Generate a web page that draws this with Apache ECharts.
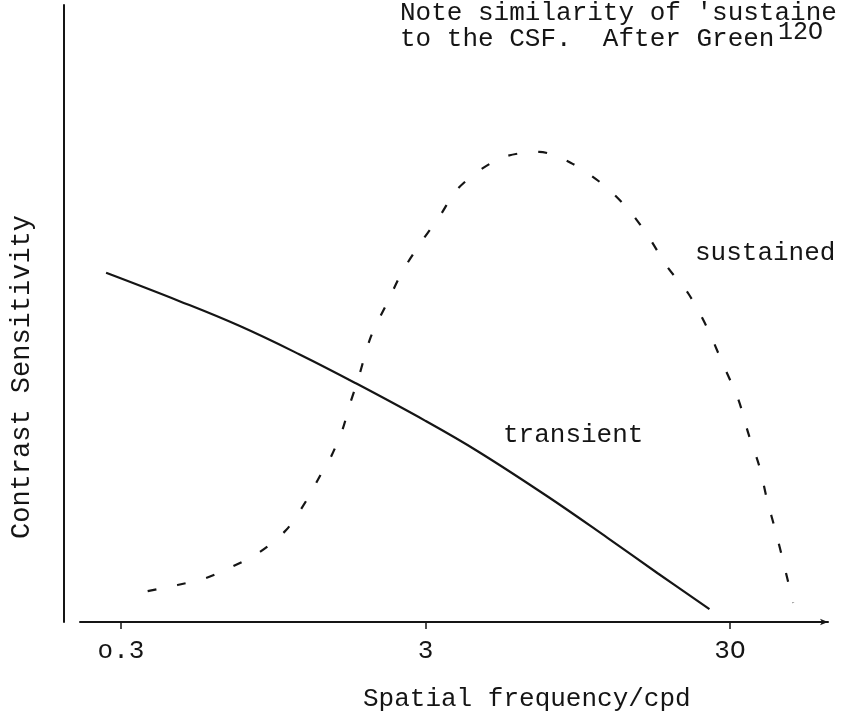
<!DOCTYPE html>
<html>
<head>
<meta charset="utf-8">
<script src="https://cdn.jsdelivr.net/npm/echarts@6/dist/echarts.min.js"></script>
<style>
  html, body { margin: 0; padding: 0; background: #fff; }
  #chart { width: 842px; height: 719px; }
</style>
</head>
<body>
<div id="chart"></div>
<script>
// Spatial frequency (cpd) and relative contrast sensitivity for the two channels
const transientFreq = [0.268, 0.467, 0.734, 1.154, 1.77, 3.00, 4.48, 7.58, 11.92, 17.37, 25.7];
const transientSens = [56.6, 52.0, 48.0, 43.4, 38.7, 32.6, 27.6, 20.3, 13.6, 7.9, 2.1];

const sustainedFreq = [0.367, 0.460, 0.569, 0.691, 0.854, 1.046, 1.216, 1.362, 1.479, 1.607, 1.694, 1.799,
  1.984, 2.255, 2.525, 2.937, 3.364, 3.793, 4.580, 5.529, 7.087, 9.020, 11.56, 13.96, 16.23, 18.72,
  21.93, 25.31, 28.34, 31.97, 34.47, 37.45, 39.75, 42.55, 44.85, 48.4];
const sustainedSens = [5.0, 6.0, 7.1, 8.9, 11.3, 14.9, 19.6, 24.0, 27.1, 31.4, 35.3, 39.2,
  46.2, 51.9, 56.9, 61.9, 66.0, 70.0, 73.4, 75.5, 76.2, 74.4, 70.8, 66.8, 62.4, 57.5,
  53.2, 47.6, 42.0, 36.1, 30.6, 25.3, 19.8, 14.4, 9.9, 3.1];

// x-axis ticks and the typed labels under them
const tickValues = [0.3, 3, 30];
const tickLabels = ['o.3', '3', '3O'];

const noteLines = ["Note similarity of 'sustaine", 'to the CSF.  After Green'];
const noteRef = '12O';
const xTitle = 'Spatial frequency/cpd';
const yTitle = 'Contrast Sensitivity';

const FONT = "'Liberation Mono', 'Courier New', monospace";
const INK = '#151515';

const zip = (xs, ys) => xs.map((x, i) => [x, ys[i]]);

const chart = echarts.init(document.getElementById('chart'), null, { renderer: 'canvas' });

chart.setOption({
  backgroundColor: '#ffffff',
  animation: false,
  grid: { left: 80, right: 14, top: 5, bottom: 97, containLabel: false },
  xAxis: {
    type: 'log',
    logBase: 10,
    min: 0.22,
    max: 63,
    axisLine: {
      show: true,
      symbol: ['none', 'arrow'],
      symbolSize: [5, 8],
      lineStyle: { color: INK, width: 2 }
    },
    axisTick: {
      show: true,
      inside: false,
      length: 7,
      customValues: tickValues,
      lineStyle: { color: INK, width: 1.5 }
    },
    axisLabel: {
      show: true,
      customValues: tickValues,
      margin: 16,
      fontFamily: FONT,
      fontSize: 26,
      color: INK,
      formatter: (v) => {
        const i = tickValues.findIndex(t => Math.abs(t - v) / t < 1e-6);
        return i >= 0 ? tickLabels[i] : '';
      }
    },
    splitLine: { show: false },
    minorTick: { show: false }
  },
  yAxis: {
    type: 'value',
    min: 0,
    max: 100,
    offset: 16,
    axisLine: { show: true, lineStyle: { color: INK, width: 2 } },
    axisTick: { show: false },
    axisLabel: { show: false },
    splitLine: { show: false }
  },
  series: [
    {
      name: 'transient',
      type: 'line',
      data: zip(transientFreq, transientSens),
      smooth: 0.4,
      symbol: 'none',
      lineStyle: { color: INK, width: 2.2, type: 'solid' }
    },
    {
      name: 'sustained',
      type: 'line',
      data: zip(sustainedFreq, sustainedSens),
      smooth: 0.3,
      symbol: 'none',
      lineStyle: { color: INK, width: 2.2, type: [9, 21] }
    }
  ],
  graphic: [
    { type: 'text', left: 400, top: 0, style: { text: noteLines[0], font: `26px ${FONT}`, fill: INK } },
    { type: 'text', left: 400, top: 26, style: { text: noteLines[1], font: `26px ${FONT}`, fill: INK } },
    { type: 'text', left: 778, top: 20, style: { text: noteRef, font: `25px ${FONT}`, fill: INK } },
    { type: 'text', left: 695, top: 240, style: { text: 'sustained', font: `26px ${FONT}`, fill: INK } },
    { type: 'text', left: 503, top: 422, style: { text: 'transient', font: `26px ${FONT}`, fill: INK } },
    { type: 'text', left: 363, top: 686, style: { text: xTitle, font: `26px ${FONT}`, fill: INK } },
    {
      type: 'text',
      x: 22, y: 377,
      rotation: Math.PI / 2,
      style: { text: yTitle, font: `27px ${FONT}`, fill: INK, align: 'center', verticalAlign: 'middle' }
    }
  ]
});
</script>
</body>
</html>
